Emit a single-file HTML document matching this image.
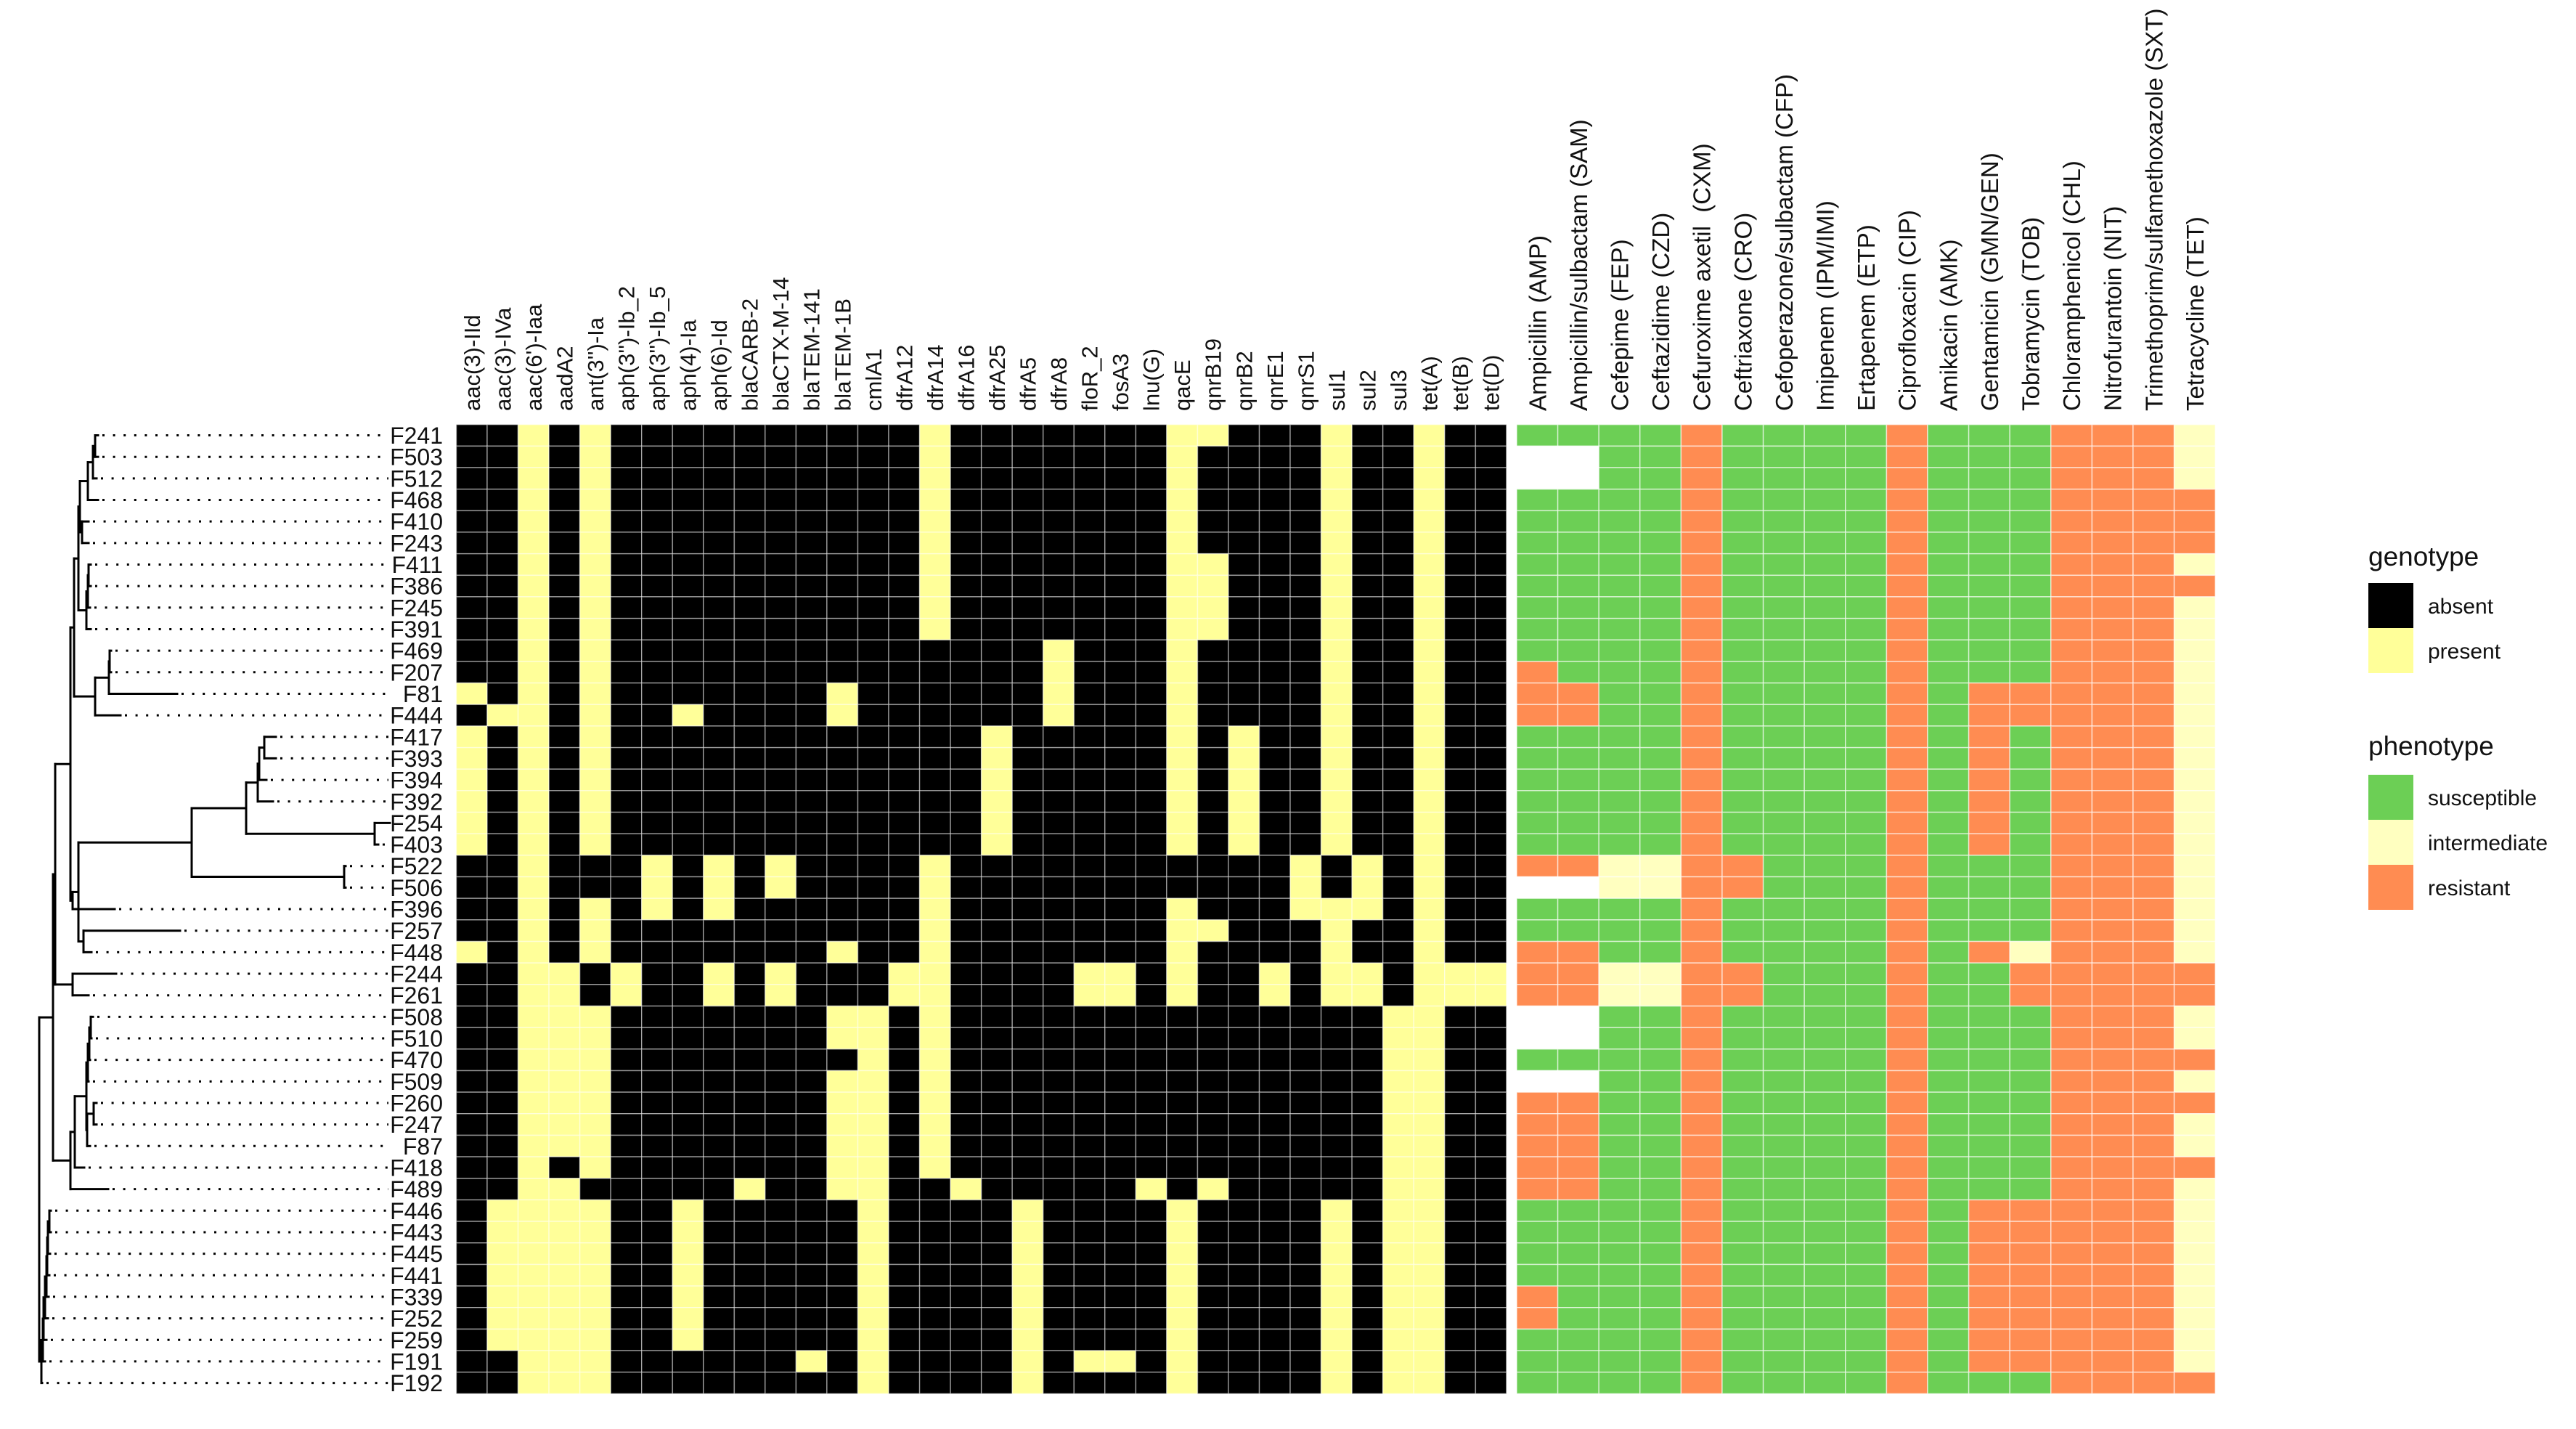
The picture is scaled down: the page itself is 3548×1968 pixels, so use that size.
<!DOCTYPE html>
<html><head><meta charset="utf-8"><style>
html,body{margin:0;padding:0;background:#fff;}
svg{display:block;font-family:"Liberation Sans",Arial,sans-serif;}
</style></head><body>
<svg id="chart" width="3548" height="1968" viewBox="0 0 3548 1968" xmlns="http://www.w3.org/2000/svg">
<g id="tree"></g>
<g id="rowlabels"></g>
<g id="geno"></g>
<g id="pheno"></g>
<g id="collabels"></g>
<g>
  <text x="3262" y="779" font-size="37" fill="#111">genotype</text>
  <rect x="3262" y="803" width="62" height="62" fill="#000"/>
  <text x="3344" y="845" font-size="30" fill="#111">absent</text>
  <rect x="3262" y="865" width="62" height="62" fill="#FFFF99"/>
  <text x="3344" y="907" font-size="30" fill="#111">present</text>
  <text x="3262" y="1040" font-size="37" fill="#111">phenotype</text>
  <rect x="3262" y="1067" width="62" height="62" fill="#6CCF55"/>
  <text x="3344" y="1109" font-size="30" fill="#111">susceptible</text>
  <rect x="3262" y="1129" width="62" height="62" fill="#FFFFC0"/>
  <text x="3344" y="1171" font-size="30" fill="#111">intermediate</text>
  <rect x="3262" y="1191" width="62" height="62" fill="#FF8C52"/>
  <text x="3344" y="1233" font-size="30" fill="#111">resistant</text>
</g>
</svg>
<script>
const strains = ["F241","F503","F512","F468","F410","F243","F411","F386","F245","F391","F469","F207","F81","F444","F417","F393","F394","F392","F254","F403","F522","F506","F396","F257","F448","F244","F261","F508","F510","F470","F509","F260","F247","F87","F418","F489","F446","F443","F445","F441","F339","F252","F259","F191","F192"];
const genes = ["aac(3)-IId","aac(3)-IVa","aac(6')-Iaa","aadA2","ant(3'')-Ia","aph(3'')-Ib_2","aph(3'')-Ib_5","aph(4)-Ia","aph(6)-Id","blaCARB-2","blaCTX-M-14","blaTEM-141","blaTEM-1B","cmlA1","dfrA12","dfrA14","dfrA16","dfrA25","dfrA5","dfrA8","floR_2","fosA3","lnu(G)","qacE","qnrB19","qnrB2","qnrE1","qnrS1","sul1","sul2","sul3","tet(A)","tet(B)","tet(D)"];
const drugs = ["Ampicillin (AMP)","Ampicillin/sulbactam (SAM)","Cefepime (FEP)","Ceftazidime (CZD)","Cefuroxime axetil\u00a0\u00a0(CXM)","Ceftriaxone (CRO)","Cefoperazone/sulbactam (CFP)","Imipenem (IPM/IMI)","Ertapenem (ETP)","Ciprofloxacin (CIP)","Amikacin (AMK)","Gentamicin (GMN/GEN)","Tobramycin (TOB)","Chloramphenicol (CHL)","Nitrofurantoin (NIT)","Trimethoprim/sulfamethoxazole (SXT)","Tetracycline (TET)"];
// present genes per strain (1-based gene index)
const presentGenes = [
[3,5,16,24,25,29,32],[3,5,16,24,29,32],[3,5,16,24,29,32],[3,5,16,24,29,32],[3,5,16,24,29,32],[3,5,16,24,29,32],
[3,5,16,24,25,29,32],[3,5,16,24,25,29,32],[3,5,16,24,25,29,32],[3,5,16,24,25,29,32],
[3,5,20,24,29,32],[3,5,20,24,29,32],[1,3,5,13,20,24,29,32],[2,3,5,8,13,20,24,29,32],
[1,3,5,18,24,26,29,32],[1,3,5,18,24,26,29,32],[1,3,5,18,24,26,29,32],[1,3,5,18,24,26,29,32],[1,3,5,18,24,26,29,32],[1,3,5,18,24,26,29,32],
[3,7,9,11,16,28,30,32],[3,7,9,11,16,28,30,32],
[3,5,7,9,16,24,28,29,30,32],[3,5,16,24,25,29,32],[1,3,5,13,16,24,29,32],
[3,4,6,9,11,15,16,21,22,24,27,29,30,32,33,34],[3,4,6,9,11,15,16,21,22,24,27,29,30,32,33,34],
[3,4,5,13,14,16,31,32],[3,4,5,13,14,16,31,32],[3,4,5,14,16,31,32],[3,4,5,13,14,16,31,32],[3,4,5,13,14,16,31,32],[3,4,5,13,14,16,31,32],[3,4,5,13,14,16,31,32],
[3,5,13,14,16,31,32],[3,4,10,13,14,17,23,25,31,32],
[2,3,4,5,8,14,19,24,29,31,32],[2,3,4,5,8,14,19,24,29,31,32],[2,3,4,5,8,14,19,24,29,31,32],[2,3,4,5,8,14,19,24,29,31,32],[2,3,4,5,8,14,19,24,29,31,32],[2,3,4,5,8,14,19,24,29,31,32],[2,3,4,5,8,14,19,24,29,31,32],
[3,4,5,12,14,19,21,22,24,29,31,32],[3,4,5,14,19,24,29,31,32]
];
// S=susceptible, I=intermediate, R=resistant, N=no data
const phenotypes = [
"SSSSRSSSSRSSSRRRI","NNSSRSSSSRSSSRRRI","NNSSRSSSSRSSSRRRI","SSSSRSSSSRSSSRRRR","SSSSRSSSSRSSSRRRR","SSSSRSSSSRSSSRRRR",
"SSSSRSSSSRSSSRRRI","SSSSRSSSSRSSSRRRR","SSSSRSSSSRSSSRRRI","SSSSRSSSSRSSSRRRI","SSSSRSSSSRSSSRRRI","RSSSRSSSSRSSSRRRI",
"RRSSRSSSSRSRRRRRI","RRSSRSSSSRSRRRRRI",
"SSSSRSSSSRSRSRRRI","SSSSRSSSSRSRSRRRI","SSSSRSSSSRSRSRRRI","SSSSRSSSSRSRSRRRI","SSSSRSSSSRSRSRRRI","SSSSRSSSSRSRSRRRI",
"RRIIRRSSSRSSSRRRI","NNIIRRSSSRSSSRRRI","SSSSRSSSSRSSSRRRI","SSSSRSSSSRSSSRRRI","RRSSRSSSSRSRIRRRI",
"RRIIRRSSSRSSRRRRR","RRIIRRSSSRSSRRRRR",
"NNSSRSSSSRSSSRRRI","NNSSRSSSSRSSSRRRI","SSSSRSSSSRSSSRRRR","NNSSRSSSSRSSSRRRI","RRSSRSSSSRSSSRRRR","RRSSRSSSSRSSSRRRI","RRSSRSSSSRSSSRRRI","RRSSRSSSSRSSSRRRR","RRSSRSSSSRSSSRRRI",
"SSSSRSSSSRSRRRRRI","SSSSRSSSSRSRRRRRI","SSSSRSSSSRSRRRRRI","SSSSRSSSSRSRRRRRI","RSSSRSSSSRSRRRRRI","RSSSRSSSSRSRRRRRI","SSSSRSSSSRSRRRRRI","SSSSRSSSSRSRRRRRI","SSSSRSSSSRSSSRRRR"
];
const tipX = {F241:135,F503:135,F512:133,F468:135,F410:122,F243:122,F411:125,F386:125,F245:124,F391:125,F469:153,F207:153,F81:244,F444:166,F417:380,F393:380,F394:367,F392:376,F254:537,F403:521,F522:476,F506:476,F396:158,F257:248,F448:126,F244:160,F261:122,F508:128,F510:126,F470:124,F509:122,F260:133,F247:133,F87:124,F418:116,F489:149,F446:70,F443:70,F445:69,F441:68,F339:67,F252:66,F259:64,F191:62,F192:58};

const NS="http://www.w3.org/2000/svg";
const TOP=584.7, RH=29.66, GX=628.5, GW=42.54, PX=2089, PW=56.6, LABEL_END=535;
const yOf = i => TOP + (i+0.5)*RH;
const gxOf = j => GX + j*GW;
const pxOf = j => PX + j*PW;
const phenoColor = {S:"#6CCF55",I:"#FFFFC0",R:"#FF8C52",N:"#FFFFFF"};
function mk(tag, attrs, parent){const e=document.createElementNS(NS,tag);for(const k in attrs)e.setAttribute(k,attrs[k]);parent.appendChild(e);return e;}

const geno=document.getElementById('geno');
strains.forEach((s,i)=>{
  const set=new Set(presentGenes[i]);
  genes.forEach((g,j)=>{
    const r=mk('rect',{x:gxOf(j),y:TOP+i*RH,width:GW,height:RH,fill:set.has(j+1)?"#FFFF99":"#000",stroke:"rgba(255,255,255,0.45)","stroke-width":1.5},geno);
    
    
  });
});
const pheno=document.getElementById('pheno');
strains.forEach((s,i)=>{
  for(let j=0;j<drugs.length;j++){
    const c=phenotypes[i][j];
    const r=mk('rect',{x:pxOf(j),y:TOP+i*RH,width:PW,height:RH,fill:phenoColor[c],stroke:"rgba(255,255,255,0.6)","stroke-width":1.5},pheno);
    
    
  }
});
const cl=document.getElementById('collabels');
genes.forEach((g,j)=>{
  const t=mk('text',{transform:`translate(${gxOf(j)+GW/2+11},566) rotate(-90)`,"font-size":31,fill:"#111"},cl);
  t.textContent=g;
  
  
});
drugs.forEach((d,j)=>{
  const t=mk('text',{transform:`translate(${pxOf(j)+PW/2+12},566) rotate(-90)`,"font-size":33,fill:"#111"},cl);
  t.textContent=d;
  
  
});
const rl=document.getElementById('rowlabels');
strains.forEach((s,i)=>{
  const t=mk('text',{x:610,y:yOf(i)+11.5,"text-anchor":"end","font-size":32,fill:"#111"},rl);
  t.textContent=s;
  
  
});
function N(x,...kids){return {x,kids};}
const comb = N(57, N(59, N(60, N(62, N(64, N(65, N(66, N(68,'F446','F443'),'F445'),'F441'),'F339'),'F252'),'F259'),'F191'),'F192');
const upper = N(73,
  N(76,
    N(97,
      N(102,
        N(108,
          N(110, N(121, N(128, N(131,'F241','F503'),'F512'),'F468'), N(113,'F410','F243')),
          N(119, N(121, N(122,'F411','F386'),'F245'),'F391')),
        N(131, N(150, N(151,'F469','F207'),'F81'),'F444')),
      N(100,
        N(108,
          N(264,
            N(339, N(355, N(357, N(364,'F417','F393'),'F394'),'F392'), N(516,'F254','F403')),
            N(474,'F522','F506')),
          N(115,'F257','F448')),
        'F396')),
    N(100,'F244','F261')),
  N(97,
    N(103,
      N(119, N(121, N(123, N(125,'F508','F510'),'F470'),'F509'), N(120, N(129,'F260','F247'),'F87')),
      'F418'),
    'F489'));
const treeRoot = N(54, upper, comb);
const tg=document.getElementById('tree');
function line(x1,y1,x2,y2,extra){const l=mk('line',Object.assign({x1,y1,x2,y2,stroke:"#000","stroke-width":3,"stroke-linecap":"square"},extra||{}),tg);return l;}
function draw(node,parentX){
  if(typeof node==='string'){
    const i=strains.indexOf(node), y=yOf(i), tx=tipX[node];
    const b=line(parentX,y,tx,y);
    
    
    if(tx<LABEL_END-4){
      const d=line(tx+6,y,LABEL_END,y,{"stroke-dasharray":"3 11.6","stroke-linecap":"butt"});
      
      
    }
    return y;
  }
  const ys=node.kids.map(k=>draw(k,node.x));
  const y=(Math.min(...ys)+Math.max(...ys))/2;
  const v=line(node.x,Math.min(...ys),node.x,Math.max(...ys));
  
  
  if(parentX!==null){
    const h=line(parentX,y,node.x,y);
    
    
  }
  return y;
}
draw(treeRoot,null);
</script>
</body></html>
